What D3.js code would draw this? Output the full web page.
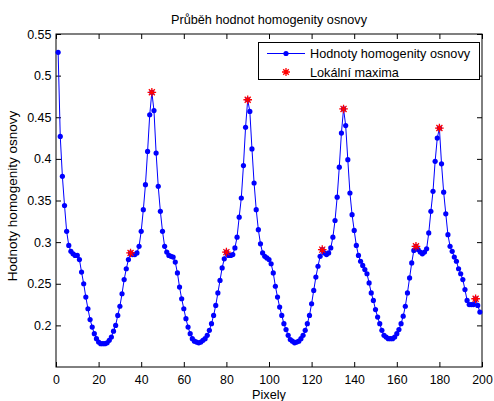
<!DOCTYPE html>
<html>
<head>
<meta charset="utf-8">
<script src="https://cdn.jsdelivr.net/npm/d3@7"></script>
<style>
  body { margin: 0; background: #fff; }
  text { font-family: "Liberation Sans", Arial, sans-serif; fill: #000; }
</style>
</head>
<body>
<div id="chart"></div>
<script>
var width = 494, height = 401;
var margin = {top: 34, right: 12, bottom: 34, left: 56};

// hodnoty homogenity, x = 1..199
var hodnoty = [
  0.528, 0.427, 0.379, 0.344, 0.313, 0.296, 0.289, 0.286, 0.284, 0.284,
  0.279, 0.264, 0.250, 0.234, 0.220, 0.207, 0.198, 0.190, 0.184, 0.180,
  0.178, 0.178, 0.178, 0.179, 0.182, 0.186, 0.193, 0.200, 0.212, 0.223,
  0.238, 0.255, 0.268, 0.279, 0.287, 0.285, 0.285, 0.287, 0.295, 0.313,
  0.339, 0.369, 0.409, 0.453, 0.480, 0.458, 0.407, 0.367, 0.337, 0.313,
  0.295, 0.288, 0.284, 0.283, 0.282, 0.276, 0.263, 0.246, 0.232, 0.220,
  0.208, 0.198, 0.190, 0.184, 0.181, 0.180, 0.179, 0.180, 0.182, 0.184,
  0.188, 0.194, 0.202, 0.212, 0.224, 0.239, 0.254, 0.269, 0.280, 0.288,
  0.284, 0.284, 0.285, 0.293, 0.306, 0.330, 0.353, 0.392, 0.438, 0.471,
  0.457, 0.412, 0.371, 0.339, 0.315, 0.298, 0.287, 0.283, 0.281, 0.279,
  0.274, 0.263, 0.247, 0.234, 0.222, 0.212, 0.202, 0.195, 0.188, 0.183,
  0.181, 0.179, 0.180, 0.181, 0.184, 0.188, 0.194, 0.202, 0.212, 0.226,
  0.242, 0.258, 0.271, 0.283, 0.291, 0.287, 0.285, 0.287, 0.293, 0.306,
  0.326, 0.354, 0.390, 0.431, 0.460, 0.440, 0.399, 0.359, 0.333, 0.314,
  0.296, 0.284, 0.277, 0.272, 0.267, 0.262, 0.251, 0.239, 0.230, 0.219,
  0.210, 0.202, 0.194, 0.188, 0.186, 0.184, 0.184, 0.184, 0.186, 0.190,
  0.195, 0.202, 0.211, 0.223, 0.239, 0.257, 0.275, 0.290, 0.295, 0.291,
  0.288, 0.286, 0.288, 0.292, 0.311, 0.337, 0.361, 0.397, 0.425, 0.437,
  0.394, 0.360, 0.334, 0.309, 0.295, 0.289, 0.282, 0.277, 0.268, 0.262,
  0.255, 0.243, 0.230, 0.225, 0.225, 0.225, 0.232, 0.224, 0.216
];

// indexy lokalnich maxim
var maxima = [35, 45, 80, 90, 125, 135, 169, 180, 197];

var xTicks = [0, 20, 40, 60, 80, 100, 120, 140, 160, 180, 200];
var yTicks = [0.2, 0.25, 0.3, 0.35, 0.4, 0.45, 0.5, 0.55];

var data = hodnoty.map(function(v, i) { return {x: i + 1, y: v}; });
var maxData = maxima.map(function(m) { return {x: m, y: hodnoty[m - 1]}; });

var svg = d3.select("#chart")
  .append("svg")
  .attr("width", width)
  .attr("height", height);

var xScale = d3.scaleLinear()
  .domain([0, 200])
  .range([margin.left, width - margin.right]);

var yScale = d3.scaleLinear()
  .domain([0.15, 0.55])
  .range([height - margin.bottom, margin.top]);

var fmt = function(d) { return String(d); };

svg.append("g")
  .attr("transform", `translate(0,${height - margin.bottom})`)
  .call(d3.axisBottom(xScale).tickValues(xTicks).tickSize(-5).tickPadding(8).tickFormat(fmt))
  .call(function(g) { g.select(".domain").remove(); })
  .selectAll("text").style("font-size", "12.3px");

svg.append("g")
  .attr("transform", `translate(0,${margin.top})`)
  .call(d3.axisTop(xScale).tickValues(xTicks).tickSize(-5).tickFormat(""))
  .call(function(g) { g.select(".domain").remove(); });

svg.append("g")
  .attr("transform", `translate(${margin.left},0)`)
  .call(d3.axisLeft(yScale).tickValues(yTicks).tickSize(-5).tickPadding(4.5).tickFormat(fmt))
  .call(function(g) { g.select(".domain").remove(); })
  .selectAll("text").style("font-size", "12.5px");

svg.append("g")
  .attr("transform", `translate(${width - margin.right},0)`)
  .call(d3.axisRight(yScale).tickValues(yTicks).tickSize(-5).tickFormat(""))
  .call(function(g) { g.select(".domain").remove(); });

svg.selectAll(".tick line").attr("stroke", "#000");

svg.append("rect")
  .attr("x", margin.left)
  .attr("y", margin.top)
  .attr("width", width - margin.left - margin.right)
  .attr("height", height - margin.top - margin.bottom)
  .attr("fill", "none")
  .attr("stroke", "#000")
  .attr("stroke-width", 1);

// title and axis labels
svg.append("text")
  .attr("x", (margin.left + width - margin.right) / 2)
  .attr("y", 24)
  .attr("text-anchor", "middle")
  .style("font-size", "12.7px")
  .text("Průběh hodnot homogenity osnovy");

svg.append("text")
  .attr("x", (margin.left + width - margin.right) / 2)
  .attr("y", 399)
  .attr("text-anchor", "middle")
  .style("font-size", "12.7px")
  .text("Pixely");

svg.append("text")
  .attr("transform", "rotate(-90)")
  .attr("x", -196)
  .attr("y", 17)
  .attr("text-anchor", "middle")
  .style("font-size", "13.5px")
  .text("Hodnoty homogenity osnovy");

// line + markers
var line = d3.line()
  .x(function(d) { return xScale(d.x); })
  .y(function(d) { return yScale(d.y); });

svg.append("path")
  .datum(data)
  .attr("d", line)
  .attr("fill", "none")
  .attr("stroke", "#0000ff")
  .attr("stroke-width", 1);

svg.selectAll(".dot")
  .data(data)
  .enter()
  .append("circle")
  .attr("class", "dot")
  .attr("cx", function(d) { return xScale(d.x); })
  .attr("cy", function(d) { return yScale(d.y); })
  .attr("r", 2.6)
  .attr("fill", "#0000ff");

function star(g, s) {
  g.append("path")
    .attr("d", `M${-s},0H${s}M0,${-s}V${s}M${-s*0.7},${-s*0.7}L${s*0.7},${s*0.7}M${-s*0.7},${s*0.7}L${s*0.7},${-s*0.7}`)
    .attr("stroke", "#ff0000")
    .attr("stroke-width", 1.3)
    .attr("fill", "none");
}

svg.selectAll(".maxmark")
  .data(maxData)
  .enter()
  .append("g")
  .attr("class", "maxmark")
  .attr("transform", function(d) { return `translate(${xScale(d.x)},${yScale(d.y)})`; })
  .each(function() { star(d3.select(this), 4.3); });

// legend
var legend = svg.append("g");
legend.append("rect")
  .attr("x", 258.5).attr("y", 42.5)
  .attr("width", 221).attr("height", 37)
  .attr("fill", "#fff").attr("stroke", "#000");
legend.append("line")
  .attr("x1", 267).attr("x2", 305).attr("y1", 53.5).attr("y2", 53.5)
  .attr("stroke", "#0000ff").attr("stroke-width", 1);
legend.append("circle")
  .attr("cx", 286).attr("cy", 53.5).attr("r", 2.6).attr("fill", "#0000ff");
star(legend.append("g").attr("transform", "translate(286,72)"), 4);
legend.append("text")
  .attr("x", 310).attr("y", 58)
  .style("font-size", "12.7px")
  .text("Hodnoty homogenity osnovy");
legend.append("text")
  .attr("x", 310).attr("y", 77)
  .style("font-size", "12.7px")
  .text("Lokální maxima");
</script>
</body>
</html>
